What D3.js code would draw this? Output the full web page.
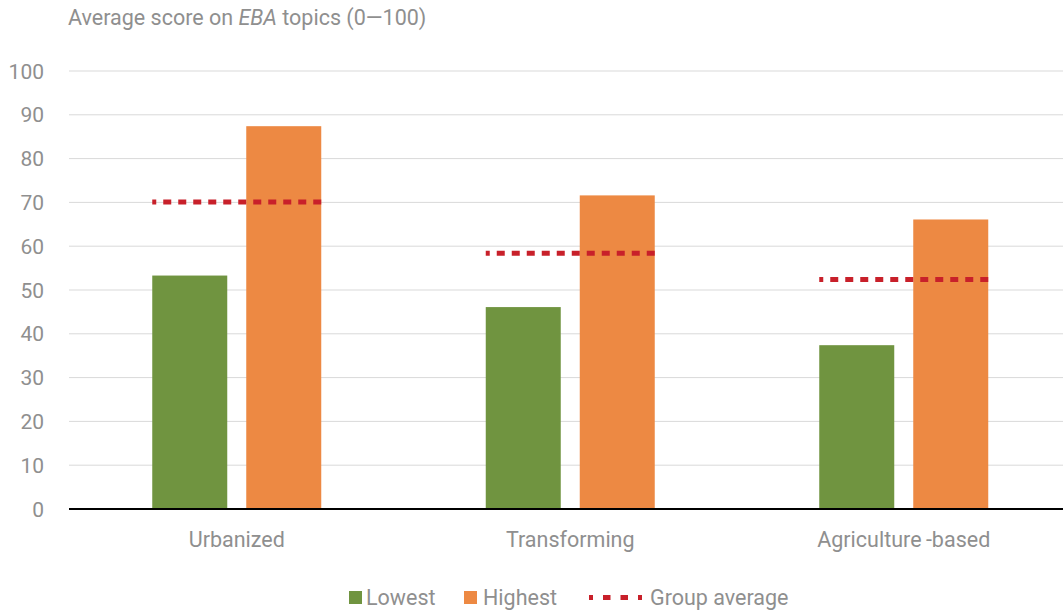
<!DOCTYPE html>
<html>
<head>
<meta charset="utf-8">
<script src="https://d3js.org/d3.v7.min.js"></script>
<style>
  body { margin: 0; background: #fff; }
  text { font-family: Roboto, "Open Sans", sans-serif; fill: #8f8f8f; }
</style>
</head>
<body>
<div id="plot"></div>
<script>
var categories = ['Urbanized', 'Transforming', 'Agriculture\u2009-based']
var lowest = [53.3, 46.1, 37.4]
var highest = [87.4, 71.6, 66.1]
var groupAvg = [70.1, 58.4, 52.4]
var yTicks = [0, 10, 20, 30, 40, 50, 60, 70, 80, 90, 100]

var W = 1063, H = 610
var margin = {top: 71, bottom: 101, left: 69, right: 0}
var width = W - margin.left - margin.right
var height = H - margin.top - margin.bottom

var svg = d3.select('#plot').append('svg')
    .attr('width', W).attr('height', H)

var g = svg.append('g').attr('transform', 'translate(' + margin.left + ',' + margin.top + ')')

// category bands run a bit past the right edge (last group is clipped in the original)
var x = d3.scaleBand().domain(categories).range([1, 1001.5])
var y = d3.scaleLinear().domain([0, 100]).range([height, 0])

var barW = 75, gap = 19

// title
svg.append('text')
    .attr('x', 68).attr('y', 25)
    .style('font-size', '21.5px')
    .html('Average score on <tspan font-style="italic">EBA</tspan> topics (0\u2014100)')

// gridlines
g.selectAll('.grid').data(yTicks.slice(1)).enter().append('line')
    .attr('x1', 0).attr('x2', W)
    .attr('y1', function(d){ return y(d) }).attr('y2', function(d){ return y(d) })
    .attr('stroke', '#d9d9d9').attr('stroke-width', 1)

// y labels
g.selectAll('.ylab').data(yTicks).enter().append('text')
    .attr('x', -25).attr('y', function(d){ return y(d) + 7.5 })
    .attr('text-anchor', 'end')
    .style('font-size', '21px')
    .text(function(d){ return d })

// bars
g.selectAll('.low').data(lowest).enter().append('rect')
    .attr('x', function(d, i){ return x(categories[i]) + x.bandwidth()/2 - gap/2 - barW })
    .attr('y', function(d){ return y(d) })
    .attr('width', barW)
    .attr('height', function(d){ return height - y(d) })
    .attr('fill', '#709440')

g.selectAll('.high').data(highest).enter().append('rect')
    .attr('x', function(d, i){ return x(categories[i]) + x.bandwidth()/2 + gap/2 })
    .attr('y', function(d){ return y(d) })
    .attr('width', barW)
    .attr('height', function(d){ return height - y(d) })
    .attr('fill', '#ed8943')

// group average
g.selectAll('.avg').data(groupAvg).enter().append('line')
    .attr('x1', function(d, i){ return x(categories[i]) + x.bandwidth()/2 - gap/2 - barW })
    .attr('x2', function(d, i){ return x(categories[i]) + x.bandwidth()/2 + gap/2 + barW })
    .attr('y1', function(d){ return y(d) }).attr('y2', function(d){ return y(d) })
    .attr('stroke', '#c8202a').attr('stroke-width', 5)
    .attr('stroke-dasharray', '8,7')
    .attr('stroke-dashoffset', 4)

// x axis line
g.append('line')
    .attr('x1', 0).attr('x2', W)
    .attr('y1', height).attr('y2', height)
    .attr('stroke', '#000').attr('stroke-width', 2)

// category labels
g.selectAll('.xlab').data(categories).enter().append('text')
    .attr('x', function(d){ return x(d) + x.bandwidth()/2 })
    .attr('y', height + 38)
    .attr('text-anchor', 'middle')
    .style('font-size', '21.5px')
    .text(function(d){ return d })

// legend
var lg = svg.append('g')
lg.append('rect').attr('x', 349).attr('y', 591).attr('width', 13).attr('height', 13).attr('fill', '#709440')
lg.append('text').attr('x', 366).attr('y', 605).style('font-size', '21.5px').text('Lowest')
lg.append('rect').attr('x', 464).attr('y', 591).attr('width', 13).attr('height', 13).attr('fill', '#ed8943')
lg.append('text').attr('x', 483).attr('y', 605).style('font-size', '21.5px').text('Highest')
lg.append('line').attr('x1', 589).attr('x2', 642).attr('y1', 597.5).attr('y2', 597.5)
    .attr('stroke', '#c8202a').attr('stroke-width', 5)
    .attr('stroke-dasharray', '7.5,10').attr('stroke-dashoffset', 3.5)
lg.append('text').attr('x', 650).attr('y', 605).style('font-size', '21.5px').text('Group average')
</script>
</body>
</html>
